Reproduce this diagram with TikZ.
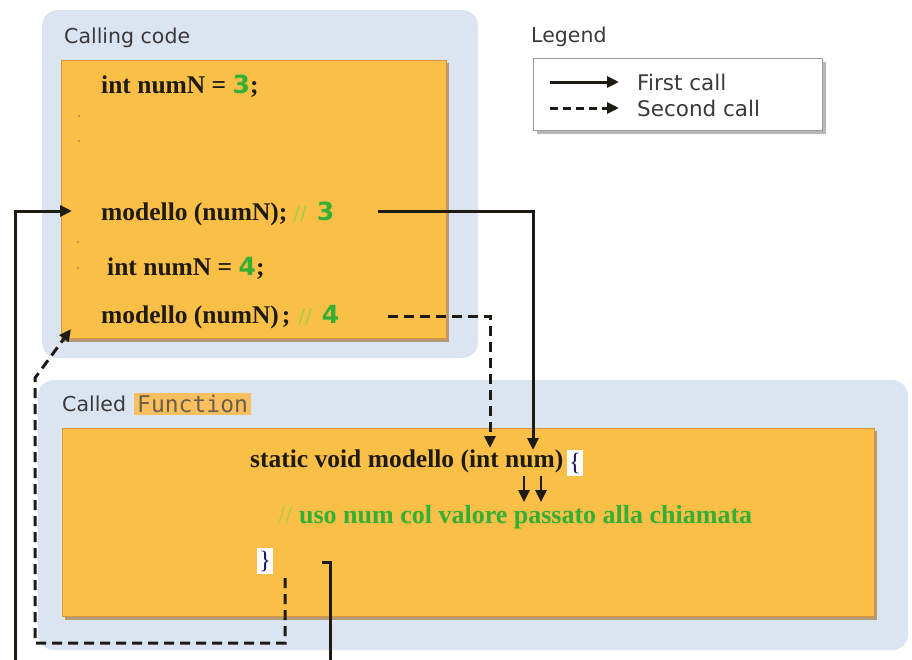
\documentclass[tikz,border=0pt]{standalone}
\usepackage{fontspec}
\setmainfont{Liberation Serif}
\newfontfamily\vsans{DejaVu Sans}
\newfontfamily\vmono{DejaVu Sans Mono}
\usetikzlibrary{arrows.meta}
\definecolor{panel}{HTML}{DAE5F1}
\definecolor{orng}{HTML}{F9BF47}
\definecolor{orngedge}{HTML}{D9973A}
\definecolor{shade}{HTML}{A57A45}
\definecolor{grn}{HTML}{33B033}
\definecolor{lgrn}{HTML}{A6CF45}
\definecolor{ink}{HTML}{1E1A14}
\definecolor{gtext}{HTML}{3A3A3A}
\definecolor{tagfill}{HTML}{FAC060}
\definecolor{tagtext}{HTML}{6E5E48}
\definecolor{lgray}{HTML}{9A9A9A}
\definecolor{dotc}{HTML}{D09040}
\begin{document}
\begin{tikzpicture}[x=1pt,y=-1pt,
  code/.style={font=\fontsize{25.5}{30}\selectfont\bfseries, text=ink, inner sep=0pt, anchor=base west},
  comment/.style={font=\fontsize{26}{30}\selectfont\bfseries, text=grn, inner sep=0pt, anchor=base west},
  label/.style={font=\vsans\fontsize{20.5}{24}\selectfont, text=gtext, inner sep=0pt, anchor=base west},
  legtext/.style={font=\vsans\fontsize{21.5}{24}\selectfont, text=gtext, inner sep=0pt, anchor=base west},
  brace/.style={font=\fontsize{25}{28}\selectfont, text=ink!70!blue, fill=white, inner xsep=2pt, inner ysep=3pt, anchor=center},
  firstcall/.style={draw=ink, line width=3pt, -{Triangle[length=12pt,width=11pt]}},
  secondcall/.style={draw=ink, line width=3pt, dash pattern=on 10pt off 6pt, -{Triangle[length=12pt,width=11pt]}},
  orangebox/.style={fill=orng, draw=orngedge, line width=1pt},
  shadowbox/.style={fill=shade, opacity=0.7},
  panelbox/.style={fill=panel, rounded corners=16pt},
  dotmark/.style={fill=dotc, draw=none}
]
\useasboundingbox (0,0) rectangle (912,659);
\fill[white] (0,0) rectangle (912,659);
\clip (0,0) rectangle (912,659);

% panels
\fill[panelbox] (42,10) rectangle (478,358);
\fill[panelbox] (38,380) rectangle (908,650);

% calling code box
\fill[shadowbox] (64,63) rectangle (449,342);
\draw[orangebox] (61,60) rectangle (446,338);
% called function box
\fill[shadowbox] (65,431) rectangle (877,620);
\draw[orangebox] (62,428) rectangle (874,616);

% labels
\node[label] (callinglbl) at (64,43) {Calling code};
\node[label] (calledlbl) at (62,411) {Called};
\node[fill=tagfill, inner xsep=3pt, inner ysep=2pt, anchor=west, text=tagtext,
      font=\vmono\fontsize{23}{26}\selectfont] (fnlbl) at (134,404) {Function};

% legend
\node[label] (leglbl) at (531,42) {Legend};
\fill[lgray!70] (537,62) rectangle (826,134);
\draw[fill=white, draw=lgray, line width=1pt] (533,58) rectangle (822,130);
\coordinate (l1a) at (550,82);
\coordinate (l1b) at (619,82);
\coordinate (l2a) at (550,108);
\coordinate (l2b) at (619,108);
\draw[firstcall] (l1a) -- (l1b);
\draw[secondcall, dash pattern=on 8pt off 5pt] (l2a) -- (l2b);
\node[legtext] (leg1) at (637,90) {First call};
\node[legtext] (leg2) at (637,116) {Second call};

% calling code text
\node[code] (line1) at (101,93) {int numN = \textcolor{grn}{\vsans\fontsize{25}{28}\selectfont\bfseries 3};};
\node[code] (line2) at (101,220) {modello (numN);\hspace{6pt}\textcolor{lgrn}{\vsans\mdseries\fontsize{20}{24}\selectfont //}\hspace{10pt}\textcolor{grn}{\vsans\fontsize{25}{28}\selectfont\bfseries 3}};
\node[code] (line3) at (107,275) {int numN = \textcolor{grn}{\vsans\fontsize{25}{28}\selectfont\bfseries 4};};
\node[code] (line4) at (101,323) {modello (numN)\hspace{3pt};\hspace{8pt}\textcolor{lgrn}{\vsans\mdseries\fontsize{20}{24}\selectfont //}\hspace{10pt}\textcolor{grn}{\vsans\fontsize{25}{28}\selectfont\bfseries 4}};

% dots
\fill[dotmark] (79,116) circle (1.3);
\fill[dotmark] (79,141) circle (1.3);
\fill[dotmark] (78,242) circle (1.3);
\fill[dotmark] (78,268) circle (1.3);

% called function text
\node[code] (sig) at (250,467) {static void modello (int num)};
\node[brace] (openbr) at (575,463) {\{};
\node[comment] (cmt) at (278,523) {\textcolor{lgrn}{\mdseries //} uso num col valore passato alla chiamata};
\node[brace] (closebr) at (265,561) {\}};

% small arrows towards the use of num
\coordinate (sa1) at (524,476);
\coordinate (sa1e) at (524,502);
\coordinate (sa2) at (541,476);
\coordinate (sa2e) at (541,502);
\draw[firstcall, line width=2.6pt] (sa1) -- (sa1e);
\draw[firstcall, line width=2.6pt] (sa2) -- (sa2e);

% first call
\coordinate (fc0) at (378,211);
\coordinate (fc1) at (533,211);
\coordinate (fcend) at (533,450);
\draw[firstcall] (fc0) -- (fc1) -- (fcend);

% second call
\coordinate (sc0) at (388,316);
\coordinate (sc1) at (490,316);
\coordinate (scend) at (490,448);
\draw[secondcall] (sc0) -- (sc1) -- (scend);

% first return
\coordinate (fr0) at (322,562);
\coordinate (fr1) at (330,562);
\coordinate (fr2) at (330,690);
\coordinate (fr3) at (15,690);
\coordinate (fr4) at (15,211);
\coordinate (frend) at (72,211);
\draw[firstcall] (fr0) -- (fr1) -- (fr2) -- (fr3) -- (fr4) -- (frend);

% second return
\coordinate (sr0) at (285,578);
\coordinate (sr1) at (285,643);
\coordinate (sr2) at (35,643);
\coordinate (sr3) at (35,378);
\coordinate (srend) at (71,329);
\draw[secondcall] (sr0) -- (sr1) -- (sr2) -- (sr3) -- (srend);
\end{tikzpicture}
\end{document}
